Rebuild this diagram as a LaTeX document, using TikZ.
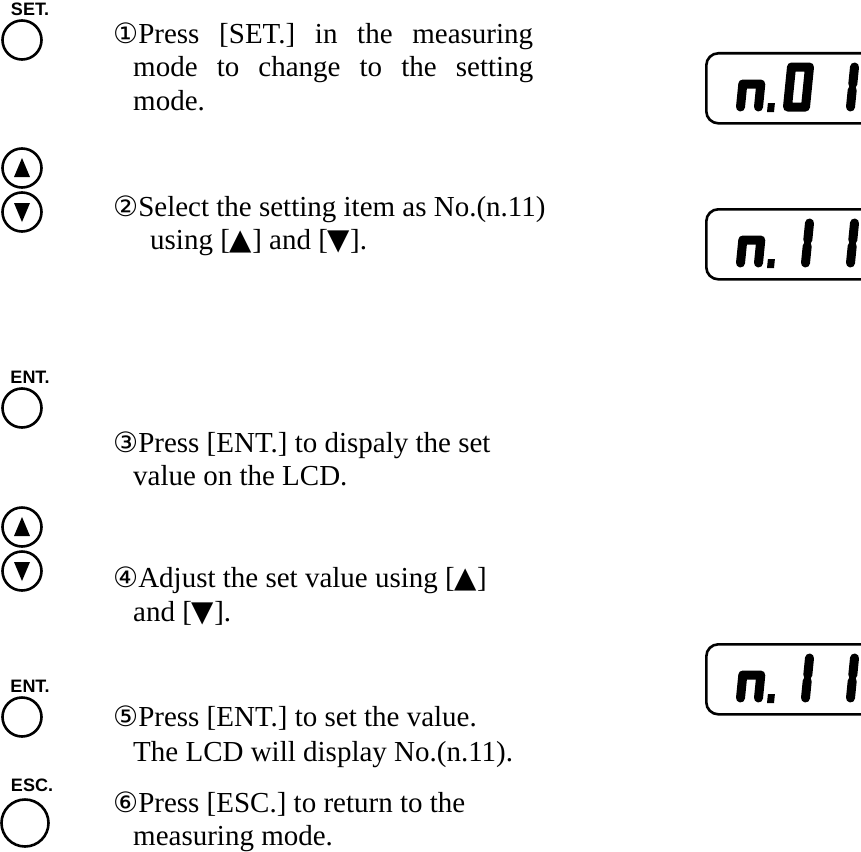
\documentclass[tikz,border=0pt]{standalone}
\usepackage{fontspec}
\setmainfont{Liberation Serif}
\newfontfamily\keyfont{Liberation Sans}
\newfontfamily\symfont{DejaVu Sans}
\usepackage{tikz}
\usetikzlibrary{positioning}

\newcommand{\cnum}[1]{{\symfont\fontsize{28}{28}\selectfont #1}}
\newcommand{\arrup}{{\symfont ▲}}
\newcommand{\arrdn}{{\symfont ▼}}
% seven segment glyphs, cell origin = top left
\newcommand{\segn}[2]{\draw[shift={(#1,#2)},seg] (5,45) -- (5,22) -- (23,22) -- (23,45);}
\newcommand{\segzero}[2]{\draw[shift={(#1,#2)},seg] (5,5) rectangle (23,45);}
\newcommand{\segone}[2]{\draw[shift={(#1,#2)},seg] (23,5) -- (23,22) (23,28) -- (23,45);}
\newcommand{\segdot}[2]{\fill[shift={(#1,#2)},xslant=0.1] (32,41) rectangle (39,50);}

\begin{document}
\begin{tikzpicture}[x=1pt,y=-1pt,
  txt/.style={anchor=base west,inner sep=0pt,font=\fontsize{29}{33}\selectfont},
  keylbl/.style={inner sep=0pt,font=\keyfont\bfseries\fontsize{18}{18}\selectfont},
  btn/.style={circle,draw,line width=2.6pt,minimum size=39pt,inner sep=0pt},
  lcdbox/.style={draw,line width=2.6pt,rounded corners=12pt,anchor=north west,
    minimum width=170pt,minimum height=70pt,inner sep=0pt},
  seg/.style={line width=9pt,line cap=round,line join=round,xslant=0.1}]
\useasboundingbox (0,0) rectangle (861,851);
\clip (0,0) rectangle (861,851);

% Keys on the left
\node[keylbl] (setlbl) at (30,9) {SET.};
\node[btn] (setkey) at (22,40) {};
\node[btn] (up1) at (22,168) {};
\node[btn] (dn1) at (22,212) {};
\node[keylbl] (entlbl1) at (30,377) {ENT.};
\node[btn] (entkey1) at (22,408) {};
\node[btn] (up2) at (22,527) {};
\node[btn] (dn2) at (22,571) {};
\node[keylbl] (entlbl2) at (30,686) {ENT.};
\node[btn] (entkey2) at (22,717) {};
\node[keylbl] (esclbl) at (32,785) {ESC.};
\node[btn,minimum size=47pt] (esckey) at (25,823) {};
% triangles in the arrow keys
\foreach \k in {up1,up2}
  \fill[shift={(\k.center)}] (0,-10) -- (8,9) -- (-8,9) -- cycle;
\foreach \k in {dn1,dn2}
  \fill[shift={(\k.center)}] (0,10) -- (8,-9) -- (-8,-9) -- cycle;

% Step texts
\node[txt] (s1a) at (113,44) {\makebox[420pt][s]{\cnum{①}Press [SET.] in the measuring}};
\node[txt] (s1b) at (133,77) {\makebox[400pt][s]{mode to change to the setting}};
\node[txt] (s1c) at (133,110) {mode.};
\node[txt] (s2a) at (113,216) {\cnum{②}Select the setting item as No.(n.11)};
\node[txt] (s2b) at (150,249) {using [\arrup] and [\arrdn].};
\node[txt] (s3a) at (113,452) {\cnum{③}Press [ENT.] to dispaly the set};
\node[txt] (s3b) at (133,485) {value on the LCD.};
\node[txt] (s4a) at (113,587) {\cnum{④}Adjust the set value using [\arrup]};
\node[txt] (s4b) at (133,621) {and [\arrdn].};
\node[txt] (s5a) at (113,726) {\cnum{⑤}Press [ENT.] to set the value.};
\node[txt] (s5b) at (133,761) {The LCD will display No.(n.11).};
\node[txt] (s6a) at (113,812) {\cnum{⑥}Press [ESC.] to return to the};
\node[txt] (s6b) at (133,845) {measuring mode.};

% LCD windows
\node[lcdbox] (lcd1) at (705,52) {};
\node[lcdbox] (lcd2) at (705,208) {};
\node[lcdbox] (lcd3) at (705,643) {};
\segn{740}{62} \segdot{740}{62} \segzero{787}{62} \segone{832}{62}
\segn{740}{218} \segdot{740}{218} \segone{787}{218} \segone{832}{218}
\segn{740}{653} \segdot{740}{653} \segone{787}{653} \segone{832}{653}
\end{tikzpicture}
\end{document}
